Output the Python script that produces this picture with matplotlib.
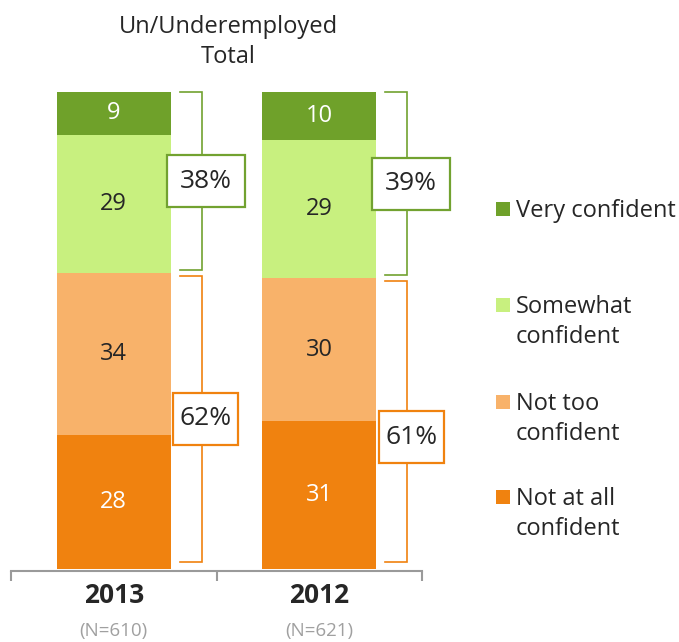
import matplotlib
matplotlib.use("Agg")
import matplotlib.pyplot as plt
from matplotlib.patches import Rectangle

plt.rcParams['font.family'] = ['Open Sans', 'DejaVu Sans']

years = ["2013", "2012"]
sample_sizes = ["(N=610)", "(N=621)"]
categories = ["Very confident", "Somewhat confident", "Not too confident", "Not at all confident"]
legend_labels = ["Very confident", "Somewhat\nconfident", "Not too\nconfident", "Not at all\nconfident"]
very = [9, 10]
somewhat = [29, 29]
not_too = [34, 30]
not_at_all = [28, 31]

colors = ["#6FA12A", "#C8F07F", "#F8B26A", "#F0820F"]
text_colors = ["white", "#262626", "#262626", "white"]
green_line = "#72A230"
orange_line = "#F0820F"
dark = "#262626"

W, H = 679, 642
fig = plt.figure(figsize=(W / 100, H / 100), dpi=100)
ax = fig.add_axes([11 / W, 1 - 571 / H, 411 / W, (571 - 92) / H])
ax.set_xlim(0, 2)
ax.set_ylim(100.42, 0)

series = [very, somewhat, not_too, not_at_all]
xs = [0.5, 1.5]
bar_w = 0.555

for i, x in enumerate(xs):
    bottom = 0
    for k, vals in enumerate(series):
        v = vals[i]
        ax.bar(x, v, bottom=bottom, width=bar_w, color=colors[k], linewidth=0)
        ax.text(x, bottom + v / 2, str(v), ha='center', va='center',
                fontsize=17, color=text_colors[k])
        bottom += v

# brackets and net boxes (pixel helpers for fixed-size boxes)
px_x = 2 / 411
px_y = 100 / 477
box_shift_px = {(1, 1): 16}
for i, x in enumerate(xs):
    pos_net = very[i] + somewhat[i]
    neg_net = not_too[i] + not_at_all[i]
    x0 = x + bar_w / 2 + 9 * px_x
    x1 = x0 + 22 * px_x
    groups = [
        (0, pos_net - 0.6, green_line, pos_net, 78),
        (pos_net + 0.6, 100 - 1.5, orange_line, neg_net, 65),
    ]
    for g, (ya, yb, col, net, bw) in enumerate(groups):
        ax.plot([x0, x1, x1, x0], [ya, ya, yb, yb], color=col, lw=1.2,
                clip_on=False, solid_joinstyle='miter', zorder=3)
        cy = (ya + yb) / 2 + box_shift_px.get((i, g), 0) * px_y
        bwd = bw * px_x
        bhd = 52 * px_y
        cx = x1 + 4 * px_x
        ax.add_patch(Rectangle((cx - bwd / 2, cy - bhd / 2), bwd, bhd,
                               facecolor='white', edgecolor=col, lw=1.6,
                               clip_on=False, zorder=4))
        ax.text(cx, cy, f"{net}%", ha='center', va='center', fontsize=19,
                color=dark, zorder=5)

# axis
for s in ['top', 'right', 'left']:
    ax.spines[s].set_visible(False)
ax.spines['bottom'].set_color('#9A9A9A')
ax.spines['bottom'].set_linewidth(1.5)
ax.set_yticks([])
ax.set_xticks([0, 1, 2])
ax.set_xticklabels([])
ax.tick_params(axis='x', length=7, width=1.5, color='#9A9A9A', direction='out')

for i, x in enumerate(xs):
    xf = (11 + (x / 2) * 411) / W
    fig.text(xf, 1 - 603 / H, years[i], ha='center', va='baseline',
             fontsize=19, fontweight='bold', color=dark)
    fig.text(xf, 1 - 631 / H, sample_sizes[i], ha='center', va='center',
             fontsize=13.5, color='#A0A0A0')

fig.text(228 / W, 1 - 33 / H, "Un/Underemployed", ha='center', va='baseline',
         fontsize=17, color=dark)
fig.text(228 / W, 1 - 63 / H, "Total", ha='center', va='baseline',
         fontsize=17, color=dark)

# legend
legend_base = [217, 313, 410, 505]
for k, lab in enumerate(legend_labels):
    y = legend_base[k]
    fig.patches.append(Rectangle((496 / W, 1 - (y - 1) / H), 14 / W, 14 / H,
                                 transform=fig.transFigure, facecolor=colors[k],
                                 edgecolor='none'))
    for j, line in enumerate(lab.split("\n")):
        fig.text(516 / W, 1 - (y + 30 * j) / H, line, ha='left', va='baseline',
                 fontsize=17, color=dark)

fig.savefig("out.png", dpi=100)
